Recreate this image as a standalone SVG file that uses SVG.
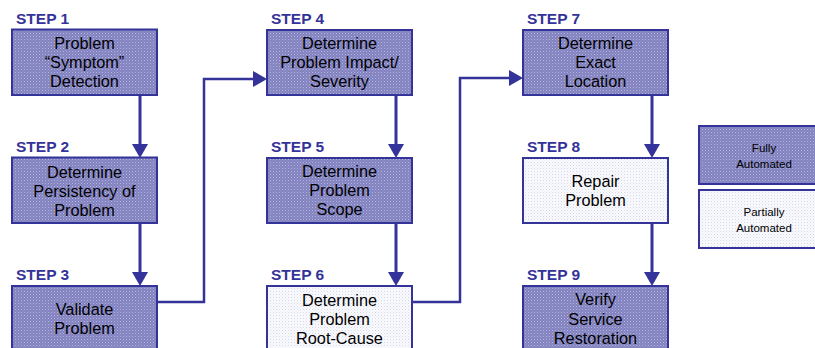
<svg xmlns="http://www.w3.org/2000/svg" width="815" height="348" viewBox="0 0 815 348">
<defs>
<pattern id="pd" width="3" height="3" patternUnits="userSpaceOnUse">
<rect width="3" height="3" fill="#8282c0"/>
<rect x="0" y="0" width="1" height="1" fill="#b4b4dc"/>
<rect x="1.5" y="1.5" width="1" height="1" fill="#a0a0d0"/>
</pattern>
<pattern id="pl" width="3" height="3" patternUnits="userSpaceOnUse">
<rect width="3" height="3" fill="#fbfbfe"/>
<rect x="0" y="0" width="1" height="1" fill="#d4d4ea"/>
<rect x="1.5" y="1.5" width="1" height="1" fill="#e2e2f2"/>
</pattern>
<marker id="ah" markerUnits="userSpaceOnUse" markerWidth="16" markerHeight="16" refX="2" refY="8" orient="auto" viewBox="0 0 14 16">
<path d="M0,0 L14,8 L0,16 z" fill="#333399"/>
</marker>
</defs>
<style>
.full{fill:url(#pd);stroke:#333399;stroke-width:2}
.part{fill:url(#pl);stroke:#333399;stroke-width:2}
.step{font-family:"Liberation Sans",Arial,sans-serif;font-weight:bold;font-size:15.5px;fill:#333399}
.t{font-family:"Liberation Sans",Arial,sans-serif;font-size:16.3px;fill:#000;text-anchor:middle}
.lg{font-family:"Liberation Sans",Arial,sans-serif;font-size:11.5px;fill:#000;text-anchor:middle}
.c{fill:none;stroke:#333399;stroke-width:3}
.c2{fill:none;stroke:#333399;stroke-width:2.5}
</style>
<g id="connectors">
<path class="c" d="M140,95 V146" marker-end="url(#ah)"/>
<path class="c" d="M140,223 V274" marker-end="url(#ah)"/>
<path class="c2" d="M157,302 H204 V79 H255" marker-end="url(#ah)"/>
<path class="c" d="M396,95 V146" marker-end="url(#ah)"/>
<path class="c" d="M396,223 V274" marker-end="url(#ah)"/>
<path class="c2" d="M412,302 H460 V78 H511" marker-end="url(#ah)"/>
<path class="c" d="M652,95 V146" marker-end="url(#ah)"/>
<path class="c" d="M652,223 V274" marker-end="url(#ah)"/>
</g>
<g id="step1">
<text class="step" x="16" y="24">STEP 1</text>
<rect class="full" x="12" y="29.5" width="145" height="65.5"/>
<text class="t" x="84.5" y="49">Problem</text>
<text class="t" x="84.5" y="68">“Symptom”</text>
<text class="t" x="84.5" y="87">Detection</text>
</g>
<g id="step2">
<text class="step" x="16" y="152">STEP 2</text>
<rect class="full" x="12" y="157.5" width="145" height="65.5"/>
<text class="t" x="84.5" y="178">Determine</text>
<text class="t" x="84.5" y="197">Persistency of</text>
<text class="t" x="84.5" y="216">Problem</text>
</g>
<g id="step3">
<text class="step" x="16" y="280">STEP 3</text>
<rect class="full" x="12" y="286" width="145" height="66"/>
<text class="t" x="84.5" y="315">Validate</text>
<text class="t" x="84.5" y="334">Problem</text>
</g>
<g id="step4">
<text class="step" x="271" y="24">STEP 4</text>
<rect class="full" x="267" y="30" width="145" height="65"/>
<text class="t" x="339.5" y="49">Determine</text>
<text class="t" x="339.5" y="68">Problem Impact/</text>
<text class="t" x="339.5" y="87">Severity</text>
</g>
<g id="step5">
<text class="step" x="271" y="152">STEP 5</text>
<rect class="full" x="267" y="158" width="145" height="65"/>
<text class="t" x="339.5" y="177">Determine</text>
<text class="t" x="339.5" y="196">Problem</text>
<text class="t" x="339.5" y="215">Scope</text>
</g>
<g id="step6">
<text class="step" x="271" y="280">STEP 6</text>
<rect class="part" x="267" y="286" width="145" height="66"/>
<text class="t" x="339.5" y="306">Determine</text>
<text class="t" x="339.5" y="325">Problem</text>
<text class="t" x="339.5" y="344">Root-Cause</text>
</g>
<g id="step7">
<text class="step" x="527" y="24">STEP 7</text>
<rect class="full" x="523" y="30" width="145" height="65"/>
<text class="t" x="595.5" y="49">Determine</text>
<text class="t" x="595.5" y="68">Exact</text>
<text class="t" x="595.5" y="87">Location</text>
</g>
<g id="step8">
<text class="step" x="527" y="152">STEP 8</text>
<rect class="part" x="523" y="158" width="145" height="65"/>
<text class="t" x="595.5" y="187">Repair</text>
<text class="t" x="595.5" y="206">Problem</text>
</g>
<g id="step9">
<text class="step" x="527" y="280">STEP 9</text>
<rect class="full" x="523" y="286" width="145" height="66"/>
<text class="t" x="595.5" y="305">Verify</text>
<text class="t" x="595.5" y="325">Service</text>
<text class="t" x="595.5" y="344">Restoration</text>
</g>
<g id="legend-full">
<rect class="full" x="699" y="126" width="130" height="58"/>
<text class="lg" x="764" y="152">Fully</text>
<text class="lg" x="764" y="168">Automated</text>
</g>
<g id="legend-partial">
<rect class="part" x="699" y="190" width="130" height="58"/>
<text class="lg" x="764" y="216">Partially</text>
<text class="lg" x="764" y="232">Automated</text>
</g>
</svg>
